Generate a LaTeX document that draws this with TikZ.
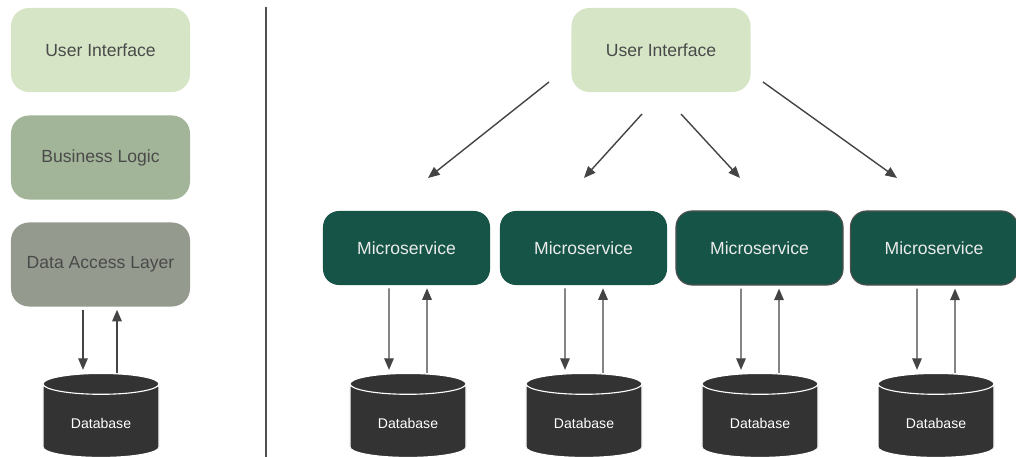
\documentclass[tikz,border=0pt]{standalone}
\usepackage{fontspec}
\setmainfont{Liberation Sans}
\usetikzlibrary{shapes.geometric,arrows.meta}
\definecolor{uigreen}{HTML}{D5E5C6}
\definecolor{logicgreen}{HTML}{A3B599}
\definecolor{accessgray}{HTML}{959A8F}
\definecolor{labelgray}{HTML}{4A4A4A}
\definecolor{svcgreen}{HTML}{155446}
\definecolor{svcborder}{HTML}{505050}
\definecolor{dbgray}{HTML}{333333}
\definecolor{arrowgray}{HTML}{444444}
\begin{document}
\begin{tikzpicture}[x=0.025cm,y=0.025cm,
  layer/.style={rounded corners=4.5mm,minimum width=4.475cm,minimum height=2.1cm,
    text=labelgray,font=\fontsize{12.5}{15}\selectfont},
  service/.style={fill=svcgreen,rounded corners=4mm,minimum width=4.175cm,minimum height=1.85cm,
    text=white!92!black,font=\fontsize{12.5}{15}\selectfont},
  database/.style={cylinder,shape border rotate=90,aspect=0.3,fill=dbgray,draw=white,line width=0.8pt,
    minimum width=2.9cm,minimum height=2.1cm,text=white,font=\fontsize{10}{12}\selectfont},
  arr/.style={draw=arrowgray,line width=1pt,-{Triangle[length=2.9mm,width=2.4mm]}}]
\useasboundingbox (0,0) rectangle (1016,-457);
\node [layer,fill=uigreen] (ui) at (100.5,-50) {User Interface};
\node [layer,fill=logicgreen] (logic) at (100.5,-157.5) {Business Logic};
\node [layer,fill=accessgray] (dal) at (100.5,-264.5) {Data Access Layer};
\node [database] (db0) at (101,-423) {Database};
\draw [arr] ([yshift=-0.75mm]dal.south -| 83,0) -- ([yshift=0.75mm]db0.north -| 83,0);
\draw [arr] (db0.north -| 117,0) -- ([yshift=-0.75mm]dal.south -| 117,0);
\draw [svcborder,line width=1.5pt] (266,-7) -- (266,-457);
\node [layer,fill=uigreen] (ui2) at (661,-50) {User Interface};
\node [service] (ms1) at (406.5,-248) {Microservice};
\node [service] (ms2) at (583.5,-248) {Microservice};
\node [service,draw=svcborder,line width=0.8pt] (ms3) at (759.5,-248) {Microservice};
\node [service,draw=svcborder,line width=0.8pt] (ms4) at (934,-248) {Microservice};
\coordinate (t1) at (428,-178);
\coordinate (t2) at (584,-178);
\coordinate (t3) at (740,-178);
\coordinate (t4) at (897,-178);
\draw [arr] ([shift={(-112,-32)}]ui2.center) -- (t1);
\draw [arr] ([shift={(-19,-64)}]ui2.center) -- (t2);
\draw [arr] ([shift={(20,-64)}]ui2.center) -- (t3);
\draw [arr] ([shift={(102,-32)}]ui2.center) -- (t4);
\foreach \i/\x in {1/408,2/584,3/760,4/936} {
  \node [database] (db\i) at (\x,-423) {Database};
  \draw [arr] ([xshift=-19*0.025cm,yshift=-0.75mm]ms\i.south -| db\i.center) -- ([xshift=-19*0.025cm,yshift=0.75mm]db\i.north);
  \draw [arr] ([xshift=19*0.025cm]db\i.north) -- ([xshift=19*0.025cm,yshift=-0.75mm]ms\i.south -| db\i.center);
}
\end{tikzpicture}
\end{document}
